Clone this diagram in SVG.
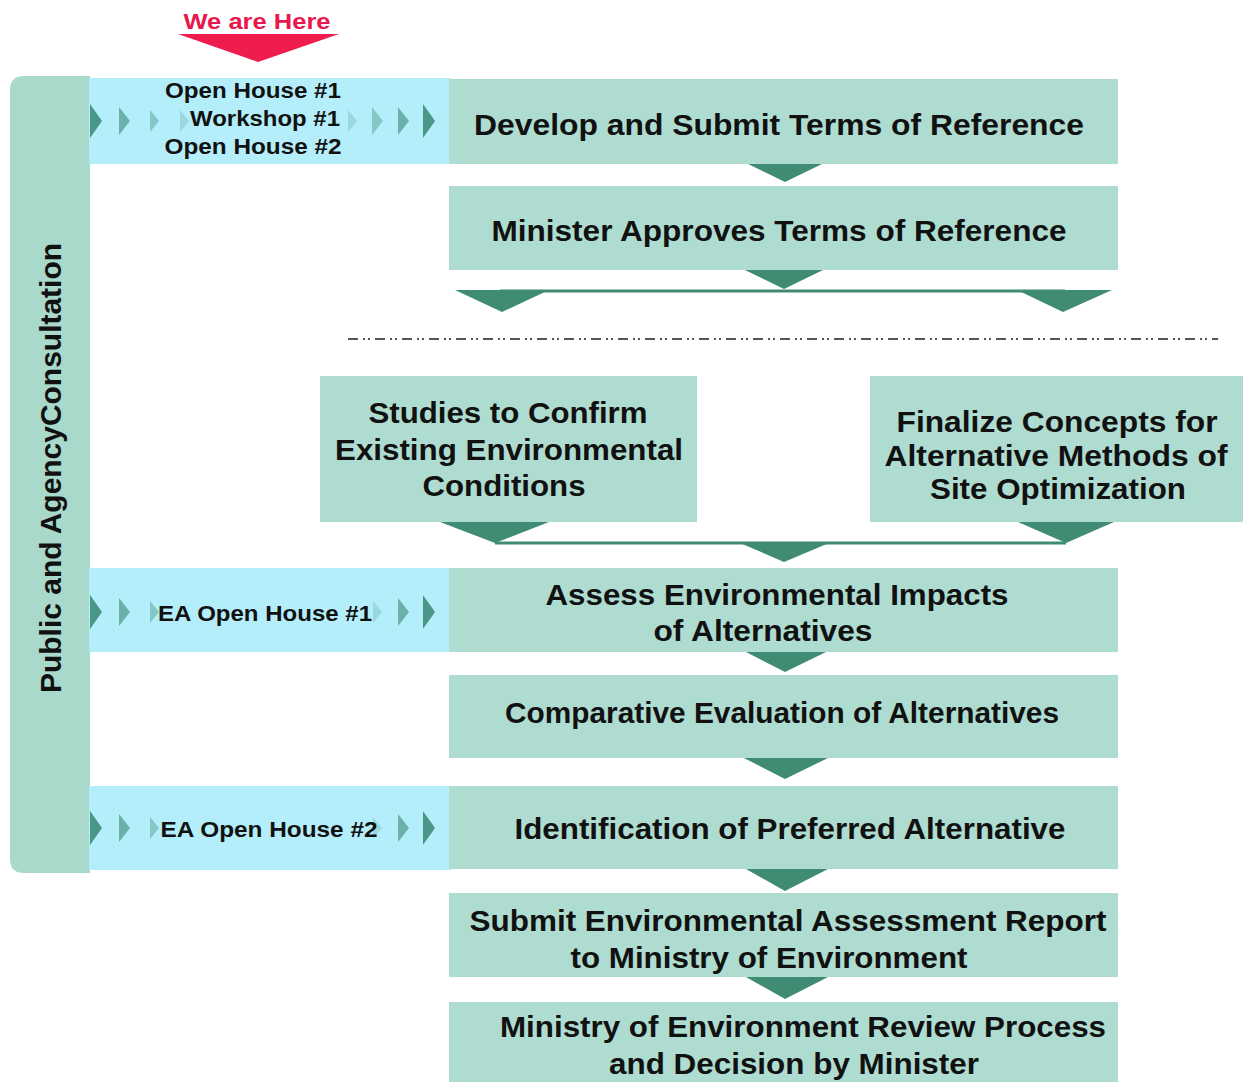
<svg xmlns="http://www.w3.org/2000/svg" xmlns:xlink="http://www.w3.org/1999/xlink" width="1243" height="1082" viewBox="0 0 1243 1082">
<style>
.box{fill:#aedcd0}
.band{fill:#b4eefa}
.col{fill:#a9d9cb}
.arr{fill:#3f8b73}
.t{font-family:"Liberation Sans",Arial,sans-serif;font-weight:bold;fill:#111;text-anchor:middle}
.m{font-size:30px}
.s{font-size:22px}
.chev{fill:#4a9787}
</style>
<defs>
<path id="chevL" d="M0,-17 L12,0 L0,17 Z"/>
<path id="chevM" d="M0,-14 L11,0 L0,14 Z"/>
<path id="chevS" d="M0,-11 L9,0 L0,11 Z"/>
</defs>
<rect width="1243" height="1082" fill="#ffffff"/>

<g id="we-are-here">
<text class="t" x="257" y="29" style="font-size:22px;fill:#e8174c" textLength="147" lengthAdjust="spacingAndGlyphs">We are Here</text>
<polygon points="178,34 339,34 258,62" fill="#ee1d4e"/>
</g>

<g id="consultation">
<path class="col" d="M24,76 L90,76 L90,873 L24,873 Q10,873 10,859 L10,90 Q10,76 24,76 Z"/>
<text class="t" transform="translate(61,468) rotate(-90)" style="font-size:30px" textLength="450" lengthAdjust="spacingAndGlyphs">Public and AgencyConsultation</text>
</g>

<g id="band1">
<rect class="band" x="89" y="78" width="362" height="86"/>
<use xlink:href="#chevL" x="90" y="121" class="chev"/>
<use xlink:href="#chevM" x="119" y="121" class="chev" fill-opacity="0.7"/>
<use xlink:href="#chevS" x="150" y="121" class="chev" fill-opacity="0.45"/>
<use xlink:href="#chevS" x="180" y="121" class="chev" fill-opacity="0.25"/>
<use xlink:href="#chevS" x="348" y="121" class="chev" fill-opacity="0.25"/>
<use xlink:href="#chevM" x="372" y="121" class="chev" fill-opacity="0.45"/>
<use xlink:href="#chevM" x="398" y="121" class="chev" fill-opacity="0.7"/>
<use xlink:href="#chevL" x="423" y="121" class="chev"/>
<text class="t s" x="253" y="98" textLength="176" lengthAdjust="spacingAndGlyphs">Open House #1</text>
<text class="t s" x="265" y="126" textLength="150" lengthAdjust="spacingAndGlyphs">Workshop #1</text>
<text class="t s" x="253" y="154" textLength="177" lengthAdjust="spacingAndGlyphs">Open House #2</text>
</g>

<g id="band2">
<rect class="band" x="89" y="568" width="362" height="84"/>
<use xlink:href="#chevL" x="90" y="612" class="chev"/>
<use xlink:href="#chevM" x="119" y="612" class="chev" fill-opacity="0.7"/>
<use xlink:href="#chevS" x="150" y="612" class="chev" fill-opacity="0.45"/>
<use xlink:href="#chevS" x="373" y="612" class="chev" fill-opacity="0.25"/>
<use xlink:href="#chevM" x="398" y="612" class="chev" fill-opacity="0.7"/>
<use xlink:href="#chevL" x="423" y="612" class="chev"/>
<text class="t s" x="265" y="621" textLength="214" lengthAdjust="spacingAndGlyphs">EA Open House #1</text>
</g>

<g id="band3">
<rect class="band" x="89" y="786" width="362" height="84"/>
<use xlink:href="#chevL" x="90" y="828" class="chev"/>
<use xlink:href="#chevM" x="119" y="828" class="chev" fill-opacity="0.7"/>
<use xlink:href="#chevS" x="150" y="828" class="chev" fill-opacity="0.45"/>
<use xlink:href="#chevS" x="373" y="828" class="chev" fill-opacity="0.25"/>
<use xlink:href="#chevM" x="398" y="828" class="chev" fill-opacity="0.7"/>
<use xlink:href="#chevL" x="423" y="828" class="chev"/>
<text class="t s" x="269" y="837" textLength="217" lengthAdjust="spacingAndGlyphs">EA Open House #2</text>
</g>

<g id="n1">
<rect class="box" x="449" y="79" width="669" height="85"/>
<text class="t m" x="779" y="135" textLength="610" lengthAdjust="spacingAndGlyphs">Develop and Submit Terms of Reference</text>
</g>
<g id="n2">
<rect class="box" x="449" y="186" width="669" height="84"/>
<text class="t m" x="779" y="241" textLength="575" lengthAdjust="spacingAndGlyphs">Minister Approves Terms of Reference</text>
</g>
<g id="n3">
<rect class="box" x="320" y="376" width="377" height="146"/>
<text class="t m" x="508" y="423" textLength="279" lengthAdjust="spacingAndGlyphs">Studies to Confirm</text>
<text class="t m" x="509" y="460" textLength="348" lengthAdjust="spacingAndGlyphs">Existing Environmental</text>
<text class="t m" x="504" y="496" textLength="163" lengthAdjust="spacingAndGlyphs">Conditions</text>
</g>
<g id="n4">
<rect class="box" x="870" y="376" width="373" height="146"/>
<text class="t m" x="1057" y="432" textLength="321" lengthAdjust="spacingAndGlyphs">Finalize Concepts for</text>
<text class="t m" x="1056" y="466" textLength="343" lengthAdjust="spacingAndGlyphs">Alternative Methods of</text>
<text class="t m" x="1058" y="499" textLength="256" lengthAdjust="spacingAndGlyphs">Site Optimization</text>
</g>
<g id="n5">
<rect class="box" x="449" y="568" width="669" height="84"/>
<text class="t m" x="777" y="605" textLength="463" lengthAdjust="spacingAndGlyphs">Assess Environmental Impacts</text>
<text class="t m" x="763" y="641" textLength="219" lengthAdjust="spacingAndGlyphs">of Alternatives</text>
</g>
<g id="n6">
<rect class="box" x="449" y="675" width="669" height="83"/>
<text class="t m" x="782" y="723" textLength="554" lengthAdjust="spacingAndGlyphs">Comparative Evaluation of Alternatives</text>
</g>
<g id="n7">
<rect class="box" x="449" y="786" width="669" height="83"/>
<text class="t m" x="790" y="839" textLength="551" lengthAdjust="spacingAndGlyphs">Identification of Preferred Alternative</text>
</g>
<g id="n8">
<rect class="box" x="449" y="893" width="669" height="84"/>
<text class="t m" x="788" y="931" textLength="637" lengthAdjust="spacingAndGlyphs">Submit Environmental Assessment Report</text>
<text class="t m" x="769" y="968" textLength="397" lengthAdjust="spacingAndGlyphs">to Ministry of Environment</text>
</g>
<g id="n9">
<rect class="box" x="449" y="1002" width="669" height="80"/>
<text class="t m" x="803" y="1037" textLength="606" lengthAdjust="spacingAndGlyphs">Ministry of Environment Review Process</text>
<text class="t m" x="794" y="1074" textLength="370" lengthAdjust="spacingAndGlyphs">and Decision by Minister</text>
</g>

<g id="connectors">
<polygon class="arr" points="748,164 822,164 785,182"/>
<polygon class="arr" points="745,270 823,270 784,289"/>
<line x1="500" y1="291" x2="1065" y2="291" stroke="#3f8b73" stroke-width="3"/>
<polygon class="arr" points="455,290 549,290 502,312"/>
<polygon class="arr" points="1017,290 1112,290 1063,312"/>
<line x1="348" y1="339" x2="1218" y2="339" stroke="#555" stroke-width="2" stroke-dasharray="10,5,2,3,2,5"/>
<polygon class="arr" points="440,522 549,522 495,543"/>
<polygon class="arr" points="1018,522 1114,522 1066,543"/>
<line x1="495" y1="543" x2="1066" y2="543" stroke="#3f8b73" stroke-width="3"/>
<polygon class="arr" points="740,543 829,543 784,562"/>
<polygon class="arr" points="746,652 826,652 785,672"/>
<polygon class="arr" points="744,758 828,758 785,779"/>
<polygon class="arr" points="746,869 828,869 785,891"/>
<polygon class="arr" points="746,977 828,977 785,999"/>
</g>
</svg>
